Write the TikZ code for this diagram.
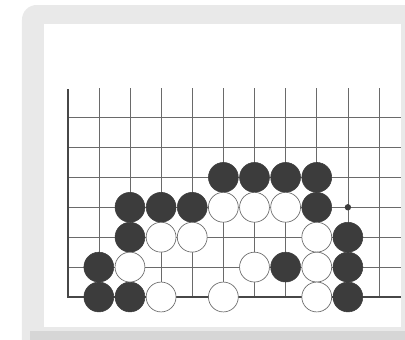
\documentclass[tikz,border=0pt]{standalone}
\definecolor{stoneblack}{HTML}{3C3C3C}
\definecolor{linegray}{HTML}{6A6A6A}
\definecolor{edgegray}{HTML}{474747}
\definecolor{framegray}{HTML}{E9E9E9}
\definecolor{framedark}{HTML}{D6D6D6}
\begin{document}
\begin{tikzpicture}[x=0.75pt,y=-0.75pt,
  bstone/.style={circle,fill=stoneblack,draw=stoneblack,line width=0.4pt,inner sep=0pt,minimum size=22.4pt},
  wstone/.style={circle,fill=white,draw=linegray,line width=0.5pt,inner sep=0pt,minimum size=22.4pt},
  dotmark/.style={circle,fill=stoneblack,inner sep=0pt,minimum size=4.8pt},
  gridline/.style={draw=linegray,line width=0.45pt},
  edgeline/.style={draw=edgegray,line width=1.5pt}]
\useasboundingbox (0,0) rectangle (405,340);
\fill[white] (0,0) rectangle (405,340);
\fill[framegray, rounded corners=11pt] (22,5) rectangle (430,365);
\fill[framedark] (30,331) rectangle (405,340);
\fill[white] (44,24) rectangle (401,327);
\begin{scope}[shift={(67.7,297)},x=23.35pt,y=22.43pt]
  % grid lines
  \foreach \i in {1,...,10} \draw[gridline] (\i,0) -- (\i,7.0);
  \foreach \j in {1,...,6} \draw[gridline] (0,\j) -- (10.71,\j);
  % board edges
  \draw[edgeline] (0,6.95) -- (0,0) -- (10.71,0);
  % black stones
  \foreach \x/\y [count=\k] in {5/4,6/4,7/4,8/4,2/3,3/3,4/3,8/3,2/2,9/2,1/1,7/1,9/1,1/0,2/0,9/0}
    \node[bstone] (b\k) at (\x,\y) {};
  % white stones
  \foreach \x/\y [count=\k] in {5/3,6/3,7/3,3/2,4/2,8/2,2/1,6/1,8/1,3/0,5/0,8/0}
    \node[wstone] (w\k) at (\x,\y) {};
  % small mark
  \node[dotmark] (m1) at (9,3) {};
\end{scope}
\end{tikzpicture}
\end{document}
